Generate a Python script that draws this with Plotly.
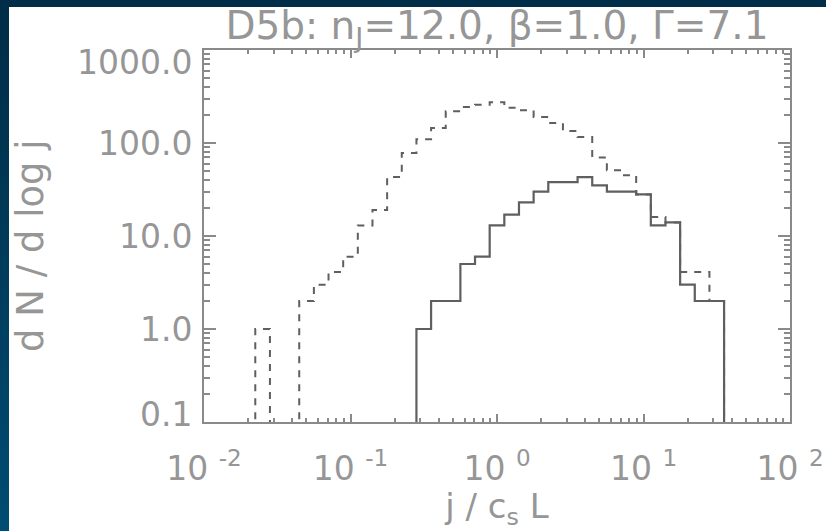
import base64
import plotly.graph_objects as go

# Bin centres (log10 of j / c_s L), 0.1 dex wide bins
log_j_solid = [-0.6, -0.5, -0.4, -0.3, -0.2, -0.1, 0.0, 0.1, 0.2, 0.3, 0.4, 0.5,
               0.6, 0.7, 0.8, 0.9, 1.0, 1.1, 1.2, 1.3, 1.4, 1.5, 1.6]
dn_solid = [0, 1.0, 2.0, 2.0, 5.0, 6.0, 13, 17, 23, 30, 38, 38,
            43, 35, 30, 30, 28, 13, 14, 3.0, 2.0, 2.0, 0]

log_j_dashed = [-1.7, -1.6, -1.5, -1.4, -1.3, -1.2, -1.1, -1.0, -0.9, -0.8, -0.7, -0.6,
                -0.5, -0.4, -0.3, -0.2, -0.1, 0.0, 0.1, 0.2, 0.3, 0.4, 0.5, 0.6,
                0.7, 0.8, 0.9, 1.0, 1.1, 1.2, 1.3, 1.4, 1.5, 1.6]
dn_dashed = [0, 1.0, 0, 0, 2.0, 3.0, 4.1, 6.0, 13, 19, 43, 78,
             110, 145, 220, 244, 258, 275, 240, 225, 190, 164, 135, 116,
             70, 51, 45, 28, 16, 14, 4.1, 4.1, 2.0, 0]

x_tick_vals = [0.01, 0.1, 1, 10, 100]
x_tick_text = ["10 <sup>-2</sup>", "10 <sup>-1</sup>", "10 <sup>0</sup>",
               "10 <sup>1</sup>", "10 <sup>2</sup>"]
y_tick_vals = [0.1, 1, 10, 100, 1000]
y_tick_text = ["0.1", "1.0", "10.0", "100.0", "1000.0"]

TEXT = "#969696"
LINE = "#5f5f5f"
AXIS = "#8a8a8a"
FONT = "DejaVu Sans"
FLOOR = 1e-3  # empty bins drop below the plotted range

# plot area in pixels
FW, FH = 826, 531
L, R, T, B = 204, 790, 50, 422
W, H = R - L, B - T


def to_plot(values):
    return [v if v > 0 else FLOOR for v in values]


fig = go.Figure()
fig.add_trace(go.Scatter(
    x=[10 ** c for c in log_j_dashed], y=to_plot(dn_dashed), mode="lines",
    line=dict(shape="hvh", color=LINE, width=2, dash="7px,7px"),
    showlegend=False, hoverinfo="skip"))
fig.add_trace(go.Scatter(
    x=[10 ** c for c in log_j_solid], y=to_plot(dn_solid), mode="lines",
    line=dict(shape="hvh", color=LINE, width=2.2),
    showlegend=False, hoverinfo="skip"))

minor_x = [m * 10 ** d for d in range(-2, 2) for m in range(2, 10)]
minor_y = [m * 10 ** d for d in range(-1, 3) for m in range(2, 10)]

fig.update_xaxes(
    type="log", range=[-2, 2], automargin=False,
    showline=True, linecolor=AXIS, linewidth=2, mirror="ticks",
    showgrid=False, zeroline=False,
    ticks="inside", ticklen=8, tickwidth=2, tickcolor=AXIS,
    tickmode="array", tickvals=x_tick_vals, ticktext=x_tick_text,
    tickfont=dict(family=FONT, size=33, color=TEXT),
    ticklabelstandoff=16,
    minor=dict(ticks="inside", ticklen=4, tickwidth=2, tickcolor=AXIS,
               tickmode="array", tickvals=minor_x, showgrid=False),
    title=dict(text="j / c<sub>s</sub> L",
               font=dict(family=FONT, size=34, color=TEXT), standoff=2),
)
fig.update_yaxes(
    type="log", range=[-1, 3], automargin=False,
    showline=True, linecolor=AXIS, linewidth=2, mirror="ticks",
    showgrid=False, zeroline=False,
    ticks="inside", ticklen=12, tickwidth=2, tickcolor=AXIS,
    tickmode="array", tickvals=y_tick_vals, ticktext=["" for _ in y_tick_vals],
    minor=dict(ticks="inside", ticklen=6, tickwidth=2, tickcolor=AXIS,
               tickmode="array", tickvals=minor_y, showgrid=False),
)

# Y tick labels; the end labels sit slightly inside the axis span
shifts = {0: 8, len(y_tick_vals) - 1: -12}
annotations = []
for i, (v, t) in enumerate(zip(y_tick_vals, y_tick_text)):
    annotations.append(dict(
        x=0, xref="paper", xanchor="right", xshift=-10,
        y=[-1, 0, 1, 2, 3][i], yref="y", yanchor="middle", yshift=shifts.get(i, 0),
        text=t, showarrow=False,
        font=dict(family=FONT, size=33, color=TEXT)))
annotations.append(dict(
    x=(30 - L) / W, xref="paper", xanchor="center",
    y=0.5, yref="paper", yanchor="middle", yshift=-10,
    text="d N / d log j", textangle=-90, showarrow=False,
    font=dict(family=FONT, size=37, color=TEXT)))

# Dark blue frame: a vertical gradient strip on the left, a flat strip on top
svg = ('<svg xmlns="http://www.w3.org/2000/svg" width="10" height="100" '
       'preserveAspectRatio="none">'
       '<defs><linearGradient id="g" x1="0" y1="0" x2="0" y2="1">'
       '<stop offset="0" stop-color="#002c46"/>'
       '<stop offset="1" stop-color="#004c72"/>'
       '</linearGradient></defs>'
       '<rect width="10" height="100" fill="url(#g)"/></svg>')
src = "data:image/svg+xml;base64," + base64.b64encode(svg.encode()).decode()
images = [dict(
    source=src, xref="paper", yref="paper",
    x=-L / W, y=(B - 0) / H, sizex=9 / W, sizey=FH / H,
    xanchor="left", yanchor="top", sizing="stretch", layer="above")]

shapes = [dict(
    type="rect", xref="paper", yref="paper",
    x0=-L / W, x1=(FW - L) / W,
    y0=(B - 7) / H, y1=(B + 1) / H,
    fillcolor="rgb(0,46,72)", line=dict(width=0), layer="above")]

fig.update_layout(
    width=FW, height=FH,
    margin=dict(l=L, r=FW - R, t=T, b=FH - B),
    paper_bgcolor="white", plot_bgcolor="white",
    title=dict(text="D5b: n<sub>J</sub>=12.0, β=1.0, Γ=7.1",
               font=dict(family=FONT, size=39, color=TEXT),
               x=0.5, xref="paper", xanchor="center",
               y=1 - 25 / FH, yref="container", yanchor="middle"),
    annotations=annotations,
    shapes=shapes,
    images=images,
)

fig.write_html("out.html")
